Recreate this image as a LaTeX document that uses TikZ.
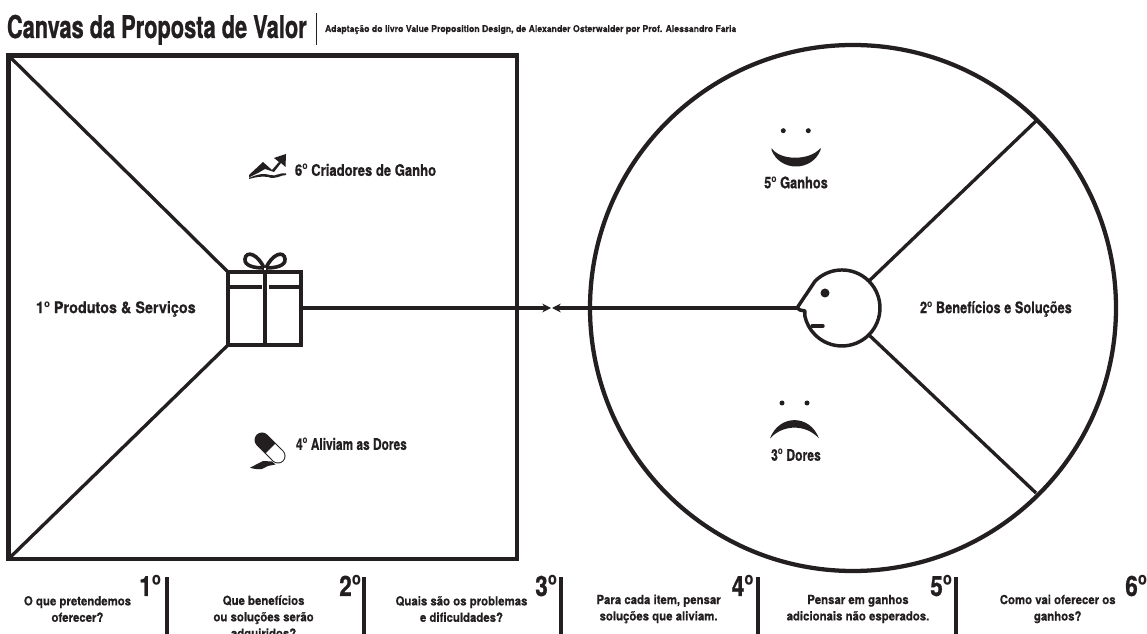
\documentclass[tikz,border=0pt]{standalone}
\usepackage{fontspec}
\usepackage{graphicx}
\usetikzlibrary{arrows.meta}
\newfontfamily\hvT[FakeStretch=0.695,FakeBold=0.8]{TeX Gyre Heros Bold}
\newfontfamily\hvS[FakeStretch=0.935,FakeBold=0.3]{TeX Gyre Heros Bold}
\newfontfamily\hvQ[FakeStretch=0.91,FakeBold=0.5]{TeX Gyre Heros Bold}
\newfontfamily\hvL[FakeStretch=0.80,FakeBold=0.6]{TeX Gyre Heros Bold}
\newfontfamily\hvN[FakeStretch=0.80,FakeBold=0.9]{TeX Gyre Heros Bold}
\newfontfamily\ordfam[FakeStretch=0.85]{Open Sans Bold}
\newcommand\ord{{\ordfam º}}
\definecolor{ink}{HTML}{231F20}
\tikzset{
 every node/.style={outer sep=0pt},
 heavy/.style={draw=ink,line width=3.6pt,line join=miter},
 spoke/.style={draw=ink,line width=2.5pt},
 lab/.style={font=\hvL\fontsize{12pt}{13pt}\selectfont,text=ink,inner sep=0pt},
 qtext/.style={font=\hvQ\fontsize{9.4pt}{12.3pt}\selectfont,text=ink,inner sep=0pt,align=center},
 qnum/.style={font=\hvN\fontsize{21pt}{22pt}\selectfont,text=ink,inner sep=0pt,anchor=base east},
 bar/.style={draw=ink,line width=3pt},
 meet/.style={-{Stealth[length=6.5pt,width=6.5pt]},draw=ink,line width=2.6pt}
}
\begin{document}
\begin{tikzpicture}[x=0.75pt,y=-0.75pt]
\useasboundingbox (0,0) rectangle (1147,634);
\clip (0,0) rectangle (1147,634);
% header
\node[font=\hvT\fontsize{23.5pt}{24pt}\selectfont,text=ink,inner sep=0pt,anchor=base west] (title) at (7,38) {Canvas da Proposta de Valor};
\coordinate (sepT) at (316,13); \coordinate (sepB) at (316,45);
\draw[draw=ink,line width=0.7pt] (sepT) -- (sepB);
\node[font=\hvS\fontsize{7pt}{8pt}\selectfont,text=ink,inner sep=0pt,anchor=base west] (sub) at (325,32) {Adaptação do livro Value Proposition Design, de Alexander Osterwalder por Prof. Alessandro Faria};
% square
\node[heavy,minimum width=381.4pt,minimum height=377.6pt,inner sep=0pt,anchor=north west] (sq) at (8.5,55.5) {};
\node[draw=ink,line width=3pt,minimum width=54.75pt,minimum height=54.75pt,inner sep=0pt,anchor=north west] (gift) at (228,272) {};
\draw[spoke] (sq.north west) -- (gift.north west);
\draw[spoke] (sq.south west) -- (gift.south west);
% gift details
\coordinate (rT) at (265,272); \coordinate (rB) at (265,345);
\draw[draw=ink,line width=2.8pt] (rT) -- (rB);
\draw[draw=ink,line width=2.6pt] (228,287) -- (261.5,287) (268.5,287) -- (301,287);
\draw[draw=ink,line width=2.7pt,fill=none] (264,268) .. controls (258,254) and (246,250) .. (245,259) .. controls (244,266) and (255,268) .. (264,268);
\draw[draw=ink,line width=2.7pt,fill=none] (266,268) .. controls (272,254) and (284,250) .. (285,259) .. controls (286,266) and (275,268) .. (266,268);
% circle and head
\node[draw=ink,line width=3.2pt,circle,minimum size=394.5pt,inner sep=0pt] (big) at (853,308) {};
\node[circle,minimum size=57pt,inner sep=0pt] (head) at (842,308) {};
\coordinate (nose) at (797,308);
\coordinate (rimU) at (1036,121); \coordinate (rimD) at (1036,493);
\draw[spoke] (head.center) ++(27,-27) -- (rimU);
\draw[spoke] (head.center) ++(27,27) -- (rimD);
\draw[draw=ink,line width=2.6pt,line join=round,line cap=round] (nose) -- (815.1,281.1) arc[start angle=-135,end angle=168,radius=38] -- (805,311) -- (800,310) -- (nose);
\fill[ink] (825,293) circle (4.5);
\draw[draw=ink,line width=2.6pt,line cap=round] (812,326) -- (823,326);
% connectors
\coordinate (mL) at (551,308); \coordinate (mR) at (552,308);
\draw[meet] (gift.east |- nose) -- (mL);
\draw[meet] (nose) -- (mR);
% faces
\fill[ink] (783.3,130.7) circle (2.5) (808.3,130.7) circle (2.5);
\fill[ink] (771.5,148) .. controls (780,161) and (810,161) .. (820.5,148) -- (820.5,150) .. controls (812,172) and (780,172) .. (771.5,150) -- cycle;
\fill[ink] (782,403) circle (2.5) (807,403) circle (2.5);
\fill[ink] (770,438.5) .. controls (779,414) and (810,414) .. (819,438.5) .. controls (806,424) and (783,424) .. (770,438.5) -- cycle;
% growth icon
\fill[ink] (249,178) -- (249,175) -- (263,162) -- (272,170) -- (279,162) -- (274,158) -- (286,154) -- (285.5,167) -- (281,163) -- (274,172) -- (265,169) -- (258,173) -- (250,177) -- cycle;
\fill[ink] (249,178) .. controls (258,174) and (264,173) .. (270,175) .. controls (276,177) and (280,172) .. (286,173.5) -- (286,175) .. controls (280,175) and (276,180) .. (268,177) .. controls (262,176) and (256,177) .. (249,179) -- cycle;
% capsule
\draw[draw=ink,line width=11.25pt,line cap=round] (262,440) -- (278,456);
\draw[draw=white,line width=9.8pt] (270.5,448.5) -- (278,456);
\fill[white] (278,456) circle (6.5);
\fill[ink] (250,467.7) -- (263,461) -- (272,461.5) -- (275.5,464.5) -- (268,466) -- (262,469) .. controls (258,469.5) and (254,469) .. (250,467.7) -- cycle;
% labels
\node[lab,anchor=west] (l6) at (295,170) {\scalebox{1.02}[1]{6\ord{} Criadores de Ganho}};
\node[lab,anchor=west] (l1) at (36,309) {\scalebox{1.125}[1]{1\ord{} Produtos \& Serviços}};
\node[lab,anchor=west] (l4) at (296,444) {\scalebox{0.93}[1]{4\ord{} Aliviam as Dores}};
\node[lab] (l5) at (796,182.5) {5\ord{} Ganhos};
\node[lab] (l3) at (796,455) {\scalebox{0.95}[1]{3\ord{} Dores}};
\node[lab,anchor=west] (l2) at (920,309) {\scalebox{1.0}[1]{2\ord{} Benefícios e Soluções}};
% bottom
\foreach \x/\n in {167/a,364/b,561/c,758/d,956/e}{
  \coordinate (bt\n) at (\x,577.5); \coordinate (bb\n) at (\x,640);
  \draw[bar] (bt\n) -- (bb\n);
}
\node[qtext] (q1) at (77.5,609) {O que pretendemos\\oferecer?};
\node[qtext,anchor=north] (q2) at (263.6,595.5) {Que benefícios\\ou soluções serão\\adquiridos?};
\node[qtext] (q3) at (461.5,609) {Quais são os problemas\\e dificuldades?};
\node[qtext] (q4) at (658.6,609) {Para cada item, pensar\\soluções que aliviam.};
\node[qtext] (q5) at (858,609) {Pensar em ganhos\\adicionais não esperados.};
\node[qtext] (q6) at (1057.7,609) {Como vai oferecer os\\ganhos?};
\node[qnum] (n1) at (161,596) {1\ord};
\node[qnum] (n2) at (361,596) {2\ord};
\node[qnum] (n3) at (557,596) {3\ord};
\node[qnum] (n4) at (753.5,596) {4\ord};
\node[qnum] (n5) at (952,596) {5\ord};
\node[qnum] (n6) at (1147,596) {6\ord};
\end{tikzpicture}
\end{document}
